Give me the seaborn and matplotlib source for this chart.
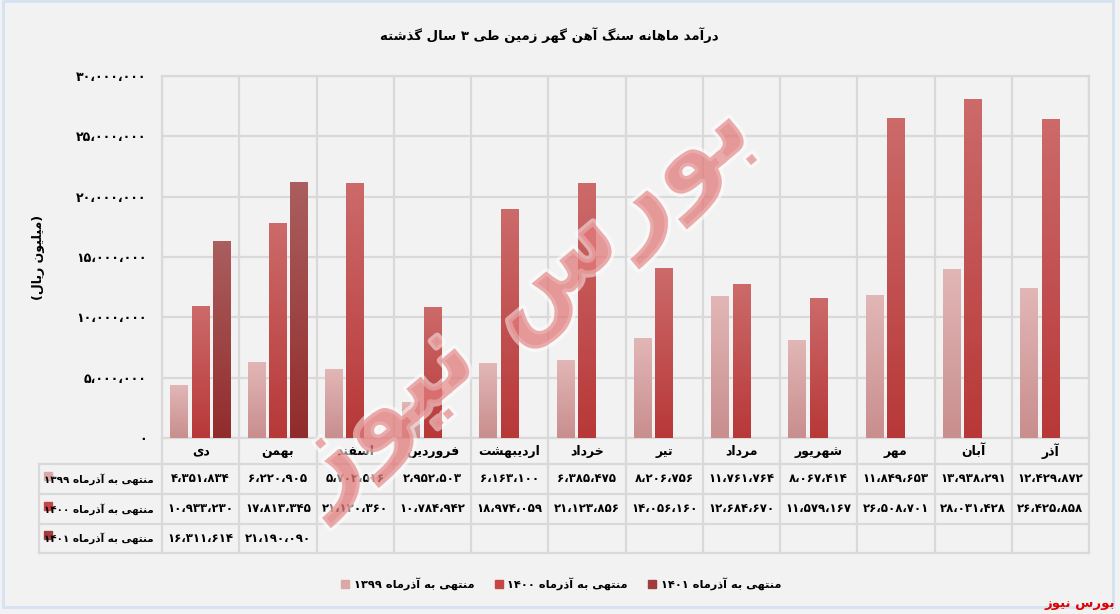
import re
import numpy as np
import pandas as pd
import matplotlib
matplotlib.use("Agg")
import matplotlib.pyplot as plt
import seaborn as sns
import matplotlib.patheffects as pe
from matplotlib.colors import LinearSegmentedColormap
from matplotlib.patches import Rectangle

# ---- Data (million rials) ----
months = ["دی", "بهمن", "اسفند", "فروردین", "اردیبهشت", "خرداد",
          "تیر", "مرداد", "شهریور", "مهر", "آبان", "آذر"]
series = ["منتهی به آذرماه ۱۳۹۹", "منتهی به آذرماه ۱۴۰۰", "منتهی به آذرماه ۱۴۰۱"]
rev_1399 = [4351834, 6220905, 5702516, 2952503, 6163100, 6385475,
            8206756, 11761764, 8067414, 11849653, 13938291, 12429872]
rev_1400 = [10933230, 17813345, 21120360, 10784942, 18974059, 21123856,
            14056160, 12684670, 11579167, 26508701, 28031428, 26425858]
rev_1401 = [16311614, 21190090, None, None, None, None,
            None, None, None, None, None, None]
y_ticks = [0, 5000000, 10000000, 15000000, 20000000, 25000000, 30000000]
title = "درآمد ماهانه سنگ آهن گهر زمین طی ۳ سال گذشته"
y_label = "(میلیون ریال)"
source = "بورس نیوز"

# ---- Styles ----
grad_colors = [("#e2b6b6", "#c98e8e"), ("#cc6a6a", "#b83838"), ("#aa5e5e", "#922c2c")]
solid_colors = ["#dba8a8", "#c64646", "#a03c3c"]
grid_c = "#d9d9d9"
bg = "#f2f2f2"

# ---- Persian shaping (matplotlib has no RTL / joining support) ----
FORMS = {
    "آ": ("\uFE81", "\uFE82", None, None),
    "ا": ("\uFE8D", "\uFE8E", None, None),
    "ب": ("\uFE8F", "\uFE90", "\uFE91", "\uFE92"),
    "ت": ("\uFE95", "\uFE96", "\uFE97", "\uFE98"),
    "خ": ("\uFEA5", "\uFEA6", "\uFEA7", "\uFEA8"),
    "د": ("\uFEA9", "\uFEAA", None, None),
    "ذ": ("\uFEAB", "\uFEAC", None, None),
    "ر": ("\uFEAD", "\uFEAE", None, None),
    "ز": ("\uFEAF", "\uFEB0", None, None),
    "س": ("\uFEB1", "\uFEB2", "\uFEB3", "\uFEB4"),
    "ش": ("\uFEB5", "\uFEB6", "\uFEB7", "\uFEB8"),
    "ط": ("\uFEC1", "\uFEC2", "\uFEC3", "\uFEC4"),
    "ف": ("\uFED1", "\uFED2", "\uFED3", "\uFED4"),
    "ل": ("\uFEDD", "\uFEDE", "\uFEDF", "\uFEE0"),
    "م": ("\uFEE1", "\uFEE2", "\uFEE3", "\uFEE4"),
    "ن": ("\uFEE5", "\uFEE6", "\uFEE7", "\uFEE8"),
    "ه": ("\uFEE9", "\uFEEA", "\uFEEB", "\uFEEC"),
    "و": ("\uFEED", "\uFEEE", None, None),
    "ی": ("\uFBFC", "\uFBFD", "\uFBFE", "\uFBFF"),
    "گ": ("\uFB92", "\uFB93", "\uFB94", "\uFB95"),
}
MIRROR = str.maketrans("()", ")(")


def fa(text):
    out = []
    for i, c in enumerate(text):
        if c not in FORMS:
            out.append(c)
            continue
        prev = text[i - 1] if i > 0 else ""
        nxt = text[i + 1] if i + 1 < len(text) else ""
        pj = prev in FORMS and FORMS[prev][2] is not None
        nj = nxt in FORMS and FORMS[c][2] is not None
        iso, fin, ini, med = FORMS[c]
        out.append(med if pj and nj else fin if pj else ini if nj else iso)
    shaped = "".join(out)
    parts = re.findall(r"[0-9۰-۹،]+|[^0-9۰-۹،]", shaped)
    parts = [p.translate(MIRROR) for p in parts]
    return "".join(reversed(parts))


def fa_num(v):
    s = f"{int(v):,}".replace(",", "،")
    return s.translate(str.maketrans("0123456789", "۰۱۲۳۴۵۶۷۸۹"))


# ---- Long table for seaborn ----
rows = []
for s, vals in zip(series, [rev_1399, rev_1400, rev_1401]):
    for m, v in zip(months, vals):
        if v is not None:
            rows.append({"month": m, "series": s, "value": v})
df = pd.DataFrame(rows)

plt.rcParams["font.family"] = ["DejaVu Sans"]
plt.rcParams["font.weight"] = "bold"

W, H = 1120, 614
fig = plt.figure(figsize=(11.2, 6.14), dpi=100, facecolor=bg)

left_px, right_px, top_px, base_px = 162, 1089, 76, 438
ax = fig.add_axes([left_px / W, 1 - base_px / H, (right_px - left_px) / W, (base_px - top_px) / H])
ax.set_facecolor(bg)

sns.barplot(data=df, x="month", y="value", hue="series", order=months, hue_order=series,
            palette=solid_colors, width=0.83, gap=0.18, saturation=1, errorbar=None,
            legend=False, linewidth=0, ax=ax, zorder=3)

# gradient fill for each bar
for cont, (top, bot) in zip(ax.containers, grad_colors):
    cmap = LinearSegmentedColormap.from_list("g", [bot, top])
    for bar in cont:
        x0, w, h = bar.get_x(), bar.get_width(), bar.get_height()
        if not np.isfinite(h) or h <= 0:
            continue
        ax.imshow(np.linspace(0, 1, 64).reshape(-1, 1), extent=[x0, x0 + w, 0, h],
                  origin="lower", aspect="auto", cmap=cmap, zorder=3)
        bar.set_facecolor("none")

ax.set_xlim(-0.5, len(months) - 0.5)
ax.set_ylim(0, 30000000)
ax.set_yticks(y_ticks)
ax.set_yticklabels([fa_num(v) for v in y_ticks])
ax.set_xticks(np.arange(-0.5, len(months), 1), minor=True)
ax.grid(which="minor", axis="x", color=grid_c, lw=1.6, zorder=0)
ax.grid(which="major", axis="y", color=grid_c, lw=1.6, zorder=0)
ax.set_axisbelow(True)
ax.tick_params(axis="x", which="both", length=0, labelbottom=False)
ax.tick_params(axis="y", length=0, pad=11, labelsize=9)
for sp in ax.spines.values():
    sp.set_color(grid_c)
    sp.set_linewidth(1.6)
ax.set_xlabel("")
ax.set_ylabel(fa(y_label), fontsize=9, fontweight="bold")
ax.yaxis.set_label_coords((45 - left_px) / (right_px - left_px), 0.5)

# ---- Data table under the chart ----
unit = (right_px - left_px) / len(months)
tab_left = -0.5 - (left_px - 39) / unit
tab_bottom_px = 553
tax = fig.add_axes([39 / W, 1 - tab_bottom_px / H, (right_px - 39) / W, (tab_bottom_px - base_px) / H])
tax.set_xlim(tab_left, len(months) - 0.5)
tax.set_ylim(tab_bottom_px - base_px, 0)
tax.axis("off")
row_lines = [26, 56, 86, 115]
for y in row_lines:
    tax.plot([tab_left, len(months) - 0.5], [y, y], color=grid_c, lw=1.6, clip_on=False)
for xb in np.arange(-0.5, len(months), 1):
    tax.plot([xb, xb], [0, 115], color=grid_c, lw=1.6, clip_on=False)
tax.plot([tab_left, tab_left], [26, 115], color=grid_c, lw=1.6, clip_on=False)

for i, m in enumerate(months):
    tax.text(i, 13, fa(m), ha="center", va="center", fontsize=9, fontweight="bold")

row_centers = [41, 71, 100]
for yc, s, vals, c in zip(row_centers, series, [rev_1399, rev_1400, rev_1401], solid_colors):
    tax.plot(tab_left + 9 / unit, yc - 3, marker="s", ms=6, color=c, clip_on=False)
    tax.text(-0.5 - 8 / unit, yc, fa(s), ha="right", va="center", fontsize=7.5, fontweight="bold")
    for i, v in enumerate(vals):
        if v is not None:
            tax.text(i, yc, fa_num(v), ha="center", va="center", fontsize=8.5, fontweight="bold")

# ---- Title, legend, watermark, border ----
fig.text(549 / W, 1 - 35 / H, fa(title), ha="center", va="center", fontsize=9.5, fontweight="bold")

handles = [Rectangle((0, 0), 1, 1, color=c) for c in solid_colors]
fig.legend(handles, [fa(s) for s in series], loc="center", bbox_to_anchor=(561 / W, 30 / H),
           ncol=3, frameon=False, handlelength=0.7, handleheight=0.7, handletextpad=0.4,
           columnspacing=1.8, prop={"weight": "bold", "size": 8.2})

fig.text(520 / W, 1 - 300 / H, fa(source), ha="center", va="center", fontsize=78, rotation=40,
         color="#e27b7b", alpha=0.5, zorder=10,
         path_effects=[pe.withStroke(linewidth=5, foreground="white")])

fig.patches.append(Rectangle((3 / W, 1 - 607 / H), 1110 / W, 606 / H, transform=fig.transFigure,
                             fill=False, edgecolor="#d4e2f2", lw=2))
fig.text(1115 / W, 1 - 603 / H, fa(source), ha="right", va="center", fontsize=9.5,
         fontweight="bold", color="#e00000")

fig.savefig("out.png", dpi=100, facecolor=bg)
